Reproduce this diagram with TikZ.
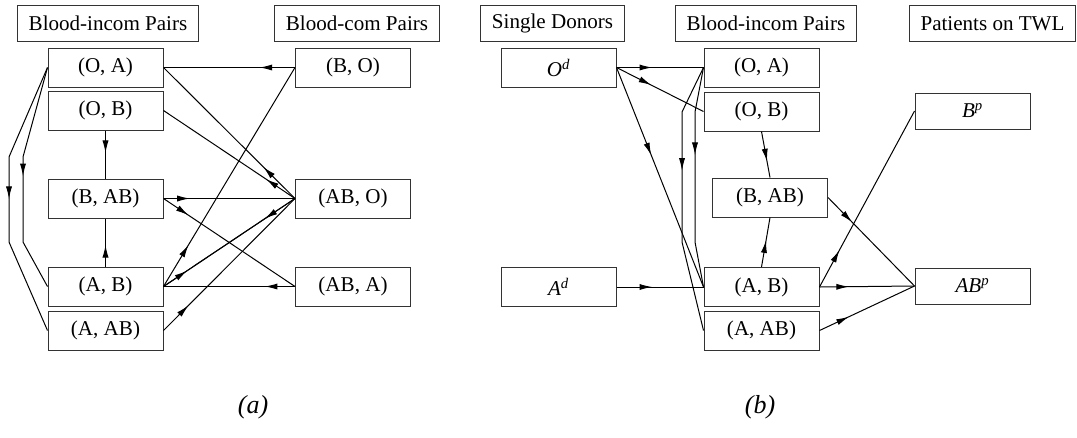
\documentclass[tikz,border=0pt]{standalone}
\usepackage{fontspec}
\setmainfont{Liberation Serif}
\usetikzlibrary{arrows.meta,decorations.markings}

\tikzset{every picture/.style={line width=0.75pt}}
\tikzset{
  pairbox/.style={draw=black!80, minimum width=86.25pt, minimum height=29.25pt, inner sep=0pt, font=\fontsize{15.8}{18}\selectfont},
  headbox/.style={draw=black!80, minimum height=27.5pt, inner xsep=8.3pt, inner ysep=0pt, font=\fontsize{15.8}{18}\selectfont},
  midarrow/.style={postaction={decorate}, decoration={markings, mark=at position #1 with {\arrow{Latex[length=9.5pt,width=4.6pt]}}}},
  midarrow/.default=0.2
}

\begin{document}
\begin{tikzpicture}[x=0.75pt,y=0.75pt,yscale=-1,xscale=1]
	\useasboundingbox (0,0) rectangle (1077,437);

	%%%% (a)
	% Text Node
	\node[headbox] (aHinc) at (108,23.5) {Blood-incom Pairs};
	\node[headbox] (aHcom) at (357,23.5) {Blood-com Pairs};
	%Shape: Rectangle
	\node[pairbox] (aOA) at (105.5,67.5) {(O, A)};
	\node[pairbox] (aOB) at (105.5,110.5) {(O, B)};
	\node[pairbox] (aBAB) at (105.5,198.5) {(B, AB)};
	\node[pairbox] (aAB) at (105.5,286.5) {(A, B)};
	\node[pairbox] (aAAB) at (105.5,330.5) {(A, AB)};
	\node[pairbox] (aBO) at (353,67.5) {(B, O)};
	\node[pairbox] (aABO) at (353,198.5) {(AB, O)};
	\node[pairbox] (aABA) at (353,286.5) {(AB, A)};

	%Straight Lines
	\draw[midarrow=0.27] (aBO.west) -- (aOA.east);
	\draw[midarrow=0.24] (aABO.west) -- (aOA.east);
	\draw[midarrow=0.22] (aABO.west) -- (aOB.east);
	\draw[midarrow=0.47] (aOB.south) -- (aBAB.north);
	\draw[midarrow=0.45] (aAB.north) -- (aBAB.south);
	\draw[midarrow=0.2] (aBAB.east) -- (aABO.west);
	\draw[midarrow=0.19] (aBAB.east) -- (aABA.west);
	\draw[midarrow=0.19] (aAB.east) -- (aBO.west);
	\draw[midarrow=0.18] (aAB.east) -- (aABO.west);
	\draw[midarrow=0.23] (aABO.west) -- (aAB.east);
	\draw[midarrow=0.23] (aABA.west) -- (aAB.east);
	\draw[midarrow=0.19] (aAAB.east) -- (aABO.west);
	% left routes
	\draw[midarrow=0.49] (aOA.west) -- (23,157) -- (23,242) -- (aAB.west);
	\draw[midarrow=0.5] (aOA.west) -- (9,157) -- (9,242) -- (aAAB.west);

	% Text Node
	\node[font=\fontsize{19.5}{22}\selectfont\itshape] (capa) at (253,407) {(a)};

	%%%% (b)
	% Text Node
	\node[headbox] (bHsd) at (552.5,23.5) {Single Donors};
	\node[headbox] (bHinc) at (766,23.5) {Blood-incom Pairs};
	\node[headbox] (bHtwl) at (992.5,23.5) {Patients on TWL};
	%Shape: Rectangle
	\node[pairbox] (bOd) at (558.5,67.5) {\itshape O\textsuperscript{d}};
	\node[pairbox] (bAd) at (558.5,287) {\itshape A\textsuperscript{d}};
	\node[pairbox] (bOA) at (761.5,67.5) {(O, A)};
	\node[pairbox] (bOB) at (761.5,111.5) {(O, B)};
	\node[pairbox] (bBAB) at (770,197.5) {(B, AB)};
	\node[pairbox] (bAB) at (761.5,287) {(A, B)};
	\node[pairbox] (bAAB) at (761.5,330.5) {(A, AB)};
	\node[pairbox, minimum height=27pt] (bBp) at (972.5,111) {\itshape B\textsuperscript{p}};
	\node[pairbox, minimum height=27pt] (bABp) at (972.5,286) {\itshape AB\textsuperscript{p}};

	%Straight Lines
	\draw[midarrow=0.41] (bOd.east) -- (bOA.west);
	\draw[midarrow=0.4] (bOd.east) -- (bOB.west);
	\draw[midarrow=0.4] (bOd.east) -- (bAB.west);
	\draw[midarrow=0.41] (bAd.east) -- (bAB.west);
	\draw[midarrow=0.65] (bOB.south) -- (bBAB.north);
	\draw[midarrow=0.54] (bAB.north) -- (bBAB.south);
	\draw[midarrow=0.28] (bBAB.east) -- (bABp.west);
	\draw[midarrow=0.21] (bAB.east) -- (bBp.west);
	\draw[midarrow=0.31] (bAB.east) -- (bABp.west);
	\draw[midarrow=0.31] (bAAB.east) -- (bABp.west);
	% left routes
	\draw[midarrow=0.4] (bOA.west) -- (695,112) -- (695,242) -- (bAB.west);
	\draw[midarrow=0.4] (bOA.west) -- (682,112) -- (682,242) -- (bAAB.west);

	% Text Node
	\node[font=\fontsize{19.5}{22}\selectfont\itshape] (capb) at (760,407) {(b)};

\end{tikzpicture}
\end{document}
